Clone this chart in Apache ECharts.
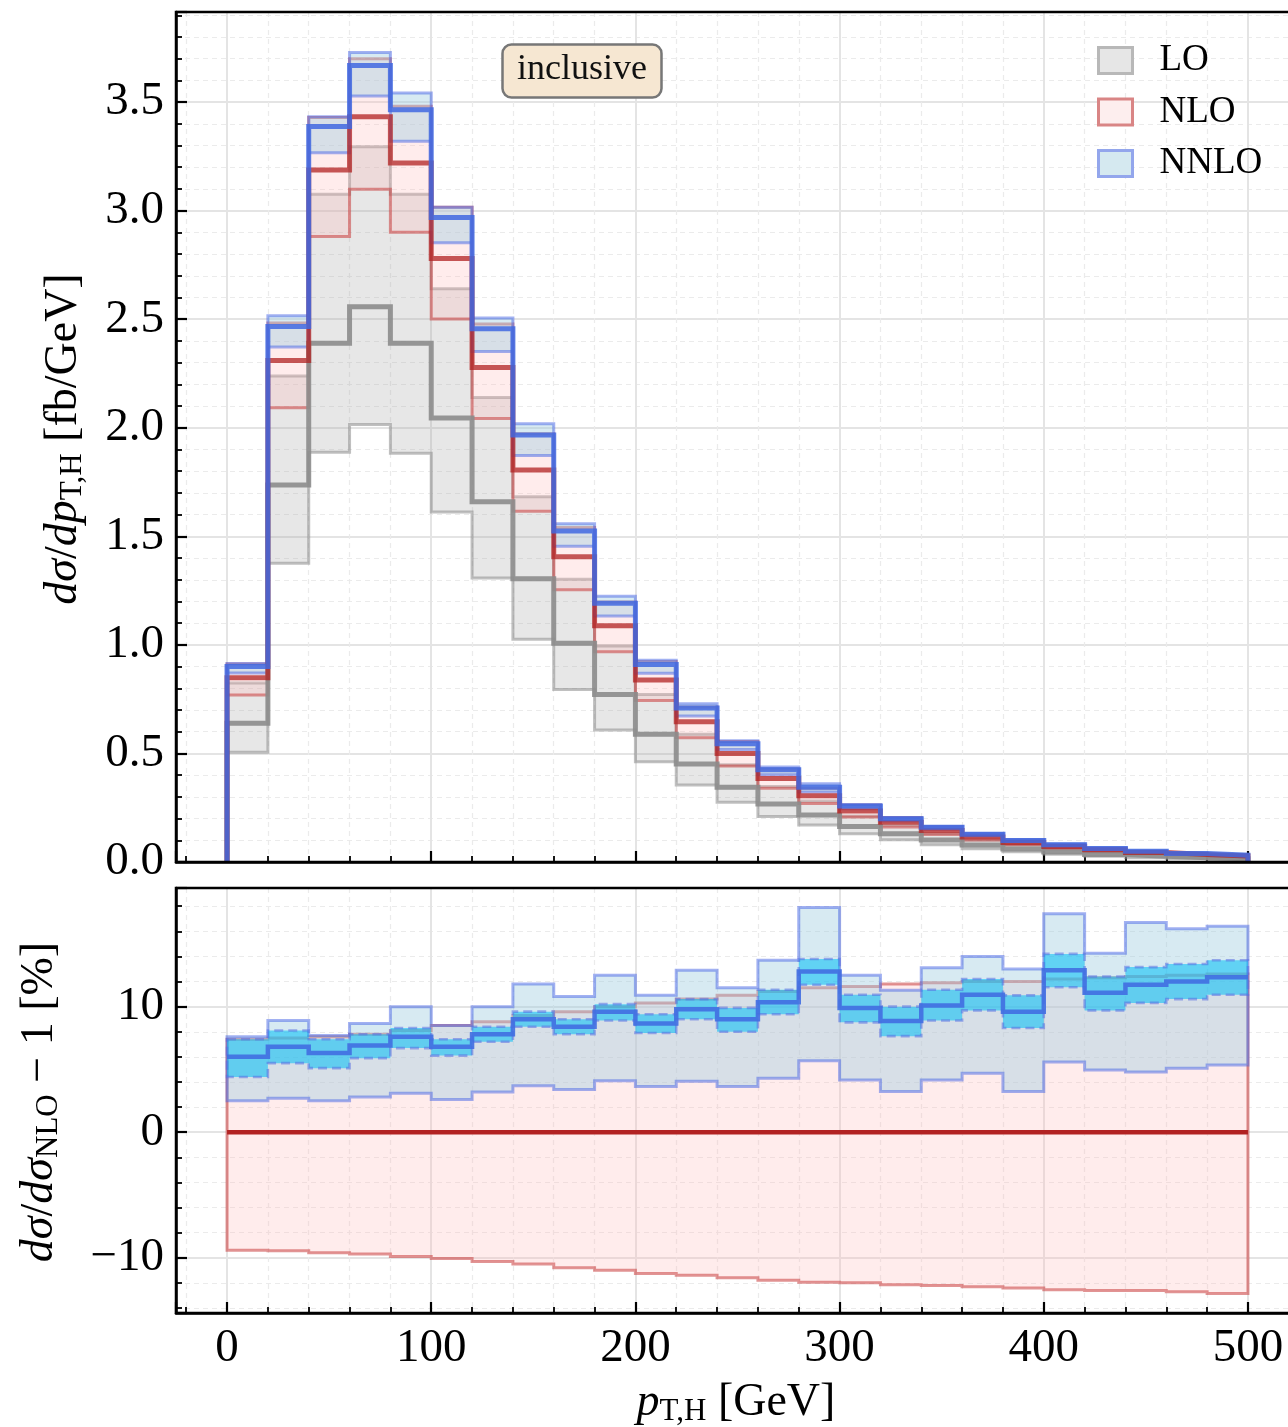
<!DOCTYPE html>
<html><head><meta charset="utf-8">
<script src="https://cdn.jsdelivr.net/npm/echarts@6/dist/echarts.min.js"></script>
<style>html,body{margin:0;padding:0;background:#fff}#c{width:1288px;height:1427px}</style>
</head><body><div id="c"></div>
<script>
// ---------------- data ----------------
const binEdges = [0,20,40,60,80,100,120,140,160,180,200,220,240,260,280,300,320,340,360,380,400,420,440,460,480,500];
const xTickLabels = [0,100,200,300,400,500];

// top panel: dσ/dpT [fb/GeV]
const loC   = [0.639,1.736,2.389,2.557,2.389,2.045,1.659,1.305,1.007,0.772,0.588,0.451,0.344,0.267,0.216,0.163,0.130,0.101,0.078,0.060,0.046,0.035,0.026,0.020,0.015];
const loLo  = [0.505,1.376,1.887,2.015,1.883,1.612,1.308,1.026,0.795,0.608,0.462,0.355,0.275,0.209,0.170,0.130,0.102,0.080,0.061,0.047,0.036,0.027,0.020,0.016,0.012];
const loHi  = [0.825,2.238,3.076,3.294,3.076,2.640,2.140,1.682,1.302,0.995,0.772,0.588,0.448,0.348,0.281,0.212,0.169,0.131,0.101,0.078,0.060,0.045,0.034,0.026,0.020];
const nloC  = [0.849,2.310,3.187,3.432,3.220,2.780,2.278,1.805,1.406,1.088,0.838,0.646,0.500,0.385,0.305,0.235,0.183,0.145,0.115,0.090,0.071,0.056,0.044,0.035,0.028];
const nloLo = [0.769,2.092,2.881,3.099,2.901,2.501,2.043,1.615,1.254,0.968,0.744,0.572,0.442,0.340,0.269,0.207,0.161,0.127,0.101,0.079,0.062,0.049,0.038,0.031,0.024];
const nloHi = [0.912,2.483,3.429,3.700,3.481,3.016,2.478,1.973,1.541,1.197,0.924,0.714,0.555,0.428,0.340,0.262,0.205,0.162,0.129,0.101,0.080,0.063,0.049,0.039,0.032];
const nnloC = [0.900,2.467,3.388,3.669,3.465,2.969,2.456,1.967,1.524,1.192,0.910,0.709,0.545,0.425,0.344,0.258,0.199,0.160,0.128,0.099,0.080,0.062,0.049,0.039,0.031];
const nnloLo= [0.870,2.372,3.267,3.528,3.320,2.852,2.351,1.872,1.454,1.133,0.869,0.672,0.518,0.402,0.322,0.245,0.189,0.151,0.120,0.093,0.075,0.059,0.046,0.037,0.029];
const nnloHi= [0.914,2.516,3.432,3.729,3.542,3.016,2.506,2.018,1.558,1.224,0.929,0.729,0.558,0.438,0.360,0.264,0.204,0.164,0.131,0.102,0.083,0.064,0.051,0.041,0.033];

// bottom panel: ratio to NLO - 1 [%]
const rNloLo   = [-9.4,-9.45,-9.6,-9.7,-9.9,-10.05,-10.3,-10.5,-10.8,-11.0,-11.25,-11.4,-11.6,-11.8,-11.95,-12.0,-12.15,-12.2,-12.3,-12.4,-12.55,-12.6,-12.6,-12.7,-12.85];
const rNloHi   = [7.4,7.5,7.6,7.8,8.1,8.5,8.8,9.3,9.6,10.0,10.3,10.6,10.9,11.2,11.5,11.6,11.8,11.9,12.0,12.0,12.2,12.3,12.4,12.5,12.6];
const rNloC    = [0,0,0,0,0,0,0,0,0,0,0,0,0,0,0,0,0,0,0,0,0,0,0,0,0];
const rNnloC   = [6.0,6.8,6.3,6.9,7.6,6.8,7.8,9.0,8.4,9.6,8.65,9.8,9.0,10.35,12.8,9.9,8.85,10.1,10.95,9.6,12.9,11.1,11.75,12.0,12.35];
const rNnloScaleHi = [7.6,8.9,7.7,8.65,10.0,8.5,10.0,11.8,10.8,12.5,10.9,12.9,11.5,13.7,17.9,12.5,11.3,13.1,14.0,13.0,17.4,14.25,16.7,16.2,16.4];
const rNnloScaleLo = [2.5,2.7,2.5,2.8,3.1,2.6,3.2,3.7,3.4,4.1,3.65,4.05,3.65,4.3,5.7,4.15,3.25,4.15,4.7,3.25,5.6,4.95,4.8,5.1,5.35];
const rNnloStatHi  = [7.4,8.1,7.4,7.8,8.3,7.4,8.4,9.6,9.0,10.2,9.4,10.6,9.9,11.35,13.8,10.95,10.0,11.35,12.2,10.9,14.2,12.4,13.15,13.4,13.7];
const rNnloStatLo  = [4.4,5.5,5.1,5.9,6.7,6.1,7.2,8.4,7.8,8.9,7.9,9.0,8.0,9.4,11.75,8.75,7.65,8.9,9.7,8.3,11.55,9.7,10.3,10.6,10.95];

// ---------------- styling ----------------
const SERIF = "'Liberation Serif','DejaVu Serif',serif";
const C = {
  loFill:'rgba(160,160,160,0.25)', loEdge:'rgba(140,140,140,0.55)', loLine:'rgba(140,140,140,0.9)',
  nloFill:'rgba(255,180,180,0.25)', nloEdge:'rgba(200,60,60,0.55)', nloLine:'rgba(178,34,34,0.75)',
  nnloFill:'rgba(160,205,225,0.42)', nnloEdge:'rgba(70,100,230,0.5)', nnloLine:'rgba(65,105,225,0.85)',
  statFill:'rgba(0,190,245,0.55)'
};

function bandSeries(name, gi, lo, hi, fill, stroke, lw, dash, z) {
  return {
    type:'custom', name: name, xAxisIndex: gi, yAxisIndex: gi, z: z, silent: true, clip: true,
    data: lo.map((l, i) => [binEdges[i], binEdges[i+1], l, hi[i]]),
    encode: {x:[0,1], y:[2,3]},
    renderItem: function (params, api) {
      if (params.dataIndexInside !== 0) return null;
      const n = lo.length, pts = [];
      for (let i = 0; i < n; i++) {
        pts.push(api.coord([api.value(0,i), api.value(3,i)]));
        pts.push(api.coord([api.value(1,i), api.value(3,i)]));
      }
      for (let i = n-1; i >= 0; i--) {
        pts.push(api.coord([api.value(1,i), api.value(2,i)]));
        pts.push(api.coord([api.value(0,i), api.value(2,i)]));
      }
      return {type:'polygon', shape:{points:pts},
        style:{fill:fill, stroke:stroke, lineWidth:lw, lineDash: dash || null, lineJoin:'miter'}};
    }
  };
}
function stepLine(name, gi, vals, color, width, z, closed) {
  const d = [];
  if (closed) d.push([binEdges[0], 0]);
  vals.forEach((v, i) => d.push([binEdges[i], v]));
  d.push([binEdges[vals.length], vals[vals.length-1]]);
  if (closed) d.push([binEdges[vals.length], 0]);
  return {type:'line', name: name, xAxisIndex: gi, yAxisIndex: gi, step:'end', data:d,
    symbol:'none', showSymbol:false, silent:true, z:z, clip:true,
    lineStyle:{color:color, width:width, join:'miter'}};
}

const tickStyle = {show:true, inside:true, length:11, lineStyle:{color:'#000', width:2.2}};
const minorTickStyle = {show:true, splitNumber:5, length:6, lineStyle:{color:'#000', width:1.8}};
const splitStyle = {show:true, showMinLine:false, showMaxLine:false, lineStyle:{color:'#e4e4e4', width:2}};
const minorSplitStyle = {show:true, lineStyle:{color:'#ebebeb', width:1.2, type:[5,4]}};
const axisLineStyle = {show:true, onZero:false, lineStyle:{color:'#000', width:2.5}};
const isMult = (v, m) => Math.abs(v/m - Math.round(v/m)) < 1e-6;

function xAxisDef(gi, showLabels) {
  return {type:'value', gridIndex:gi, min:-25, max:525, splitNumber:5, position:'bottom',
    axisLine:axisLineStyle, axisTick:tickStyle, minorTick:minorTickStyle,
    splitLine:splitStyle, minorSplitLine:minorSplitStyle,
    axisLabel:{show:showLabels, fontFamily:SERIF, fontSize:47, color:'#000', margin:12,
      formatter: v => (xTickLabels.indexOf(Math.round(v)) >= 0 && isMult(v,100)) ? String(Math.round(v)) : ''}};
}

const rich = {
  n:{fontFamily:SERIF, fontSize:46, color:'#000'},
  i:{fontFamily:SERIF, fontSize:46, fontStyle:'italic', color:'#000'},
  s:{fontFamily:SERIF, fontSize:31, color:'#000', padding:[18,0,0,0]}
};

const option = {
  animation:false,
  backgroundColor:'#fff',
  title:{text:'inclusive', left:502, top:44, padding:[8,15,10,15],
    backgroundColor:'#f6e7d2', borderColor:'#777', borderWidth:2.5, borderRadius:9,
    textStyle:{fontFamily:SERIF, fontSize:36, fontWeight:'normal', color:'#111'}},
  legend:{left:1092, top:37, orient:'vertical', itemWidth:34, itemHeight:26, itemGap:14.5,
    icon:'rect', selectedMode:false,
    textStyle:{fontFamily:SERIF, fontSize:37, color:'#000', padding:[0,0,0,22]},
    data:[
      {name:'LO', itemStyle:{color:'#e6e6e6', borderColor:'#b8b8b8', borderWidth:3}},
      {name:'NLO', itemStyle:{color:'#fdeeee', borderColor:'#d98585', borderWidth:3}},
      {name:'NNLO', itemStyle:{color:'#d5e9f0', borderColor:'#93a6ec', borderWidth:3}}
    ]},
  grid:[
    {left:176, top:12, width:1123, height:850, show:true, borderColor:'#000', borderWidth:2.5,
      backgroundColor:'transparent', outerBoundsMode:'none', containLabel:false, z:20},
    {left:176, top:888, width:1123, height:425, show:true, borderColor:'#000', borderWidth:2.5,
      backgroundColor:'transparent', outerBoundsMode:'none', containLabel:false, z:20}
  ],
  xAxis:[xAxisDef(0,false), xAxisDef(1,true)],
  yAxis:[
    {type:'value', gridIndex:0, min:0, max:3.915, splitNumber:8, position:'left',
      axisLine:axisLineStyle, axisTick:tickStyle, minorTick:minorTickStyle,
      splitLine:splitStyle, minorSplitLine:minorSplitStyle,
      axisLabel:{fontFamily:SERIF, fontSize:47, color:'#000', margin:12,
        formatter: v => isMult(v,0.5) ? v.toFixed(1) : ''}},
    {type:'value', gridIndex:1, min:-14.4, max:19.45, splitNumber:3, position:'left',
      axisLine:axisLineStyle, axisTick:tickStyle, minorTick:minorTickStyle,
      splitLine:splitStyle, minorSplitLine:minorSplitStyle,
      axisLabel:{fontFamily:SERIF, fontSize:47, color:'#000', margin:12,
        formatter: v => isMult(v,10) ? (Math.round(v) < 0 ? '\u2212' + Math.abs(Math.round(v)) : String(Math.round(v))) : ''}}
  ],
  graphic:[
    {type:'text', x:64, y:439, rotation:Math.PI/2, z:100,
      style:{text:'{i|dσ}{n|/}{i|dp}{s|T,H}{n| [fb/GeV]}', rich:rich, align:'center', verticalAlign:'middle'}},
    {type:'text', x:40, y:1102, rotation:Math.PI/2, z:100,
      style:{text:'{i|dσ}{n|/}{i|dσ}{s|NLO}{n| \u2212 1 [%]}', rich:rich, align:'center', verticalAlign:'middle'}},
    {type:'text', x:736, y:1403, z:100,
      style:{text:'{i|p}{s|T,H}{n| [GeV]}', rich:rich, align:'center', verticalAlign:'middle'}}
  ],
  series:[
    bandSeries('LO', 0, loLo, loHi, C.loFill, C.loEdge, 3, null, 2),
    bandSeries('NLO', 0, nloLo, nloHi, C.nloFill, C.nloEdge, 3, null, 3),
    bandSeries('NNLO', 0, nnloLo, nnloHi, C.nnloFill, C.nnloEdge, 3, null, 4),
    stepLine('LO central', 0, loC, C.loLine, 5, 5, true),
    stepLine('NLO central', 0, nloC, C.nloLine, 5, 6, true),
    stepLine('NNLO central', 0, nnloC, C.nnloLine, 5, 7, true),

    bandSeries('NLO', 1, rNloLo, rNloHi, C.nloFill, C.nloEdge, 3, null, 2),
    bandSeries('NNLO', 1, rNnloScaleLo, rNnloScaleHi, C.nnloFill, C.nnloEdge, 3, null, 3),
    bandSeries('NNLO stat', 1, rNnloStatLo, rNnloStatHi, C.statFill, 'rgba(90,110,225,0.55)', 2.6, [9,5], 4),
    stepLine('NLO ratio', 1, rNloC, '#b22222', 4.5, 5, false),
    stepLine('NNLO ratio', 1, rNnloC, 'rgba(65,110,225,0.9)', 4.5, 6, false)
  ]
};
const chart = echarts.init(document.getElementById('c'));
chart.setOption(option);
</script>
</body></html>
